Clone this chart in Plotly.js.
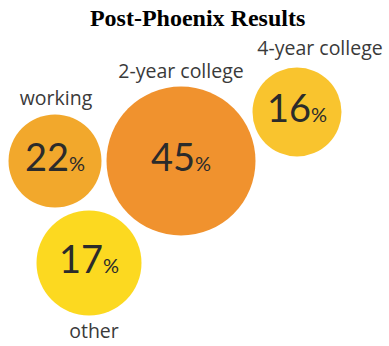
<!DOCTYPE html>
<html>
<head>
<meta charset="utf-8">
<script src="https://cdn.plot.ly/plotly-3.0.1.min.js"></script>
<style>
html,body{margin:0;padding:0;background:#fff;}
#chart{width:389px;height:346px;}
</style>
</head>
<body>
<div id="chart"></div>
<script>
// Data
const categories = ['working', '2-year college', '4-year college', 'other'];
const percents = [22, 45, 16, 17];

// Layout of the bubbles (pixel-like coordinates on hidden axes)
const bubbleX = [55, 181, 297, 89];
const bubbleY = [161, 161, 112, 263];
const bubbleD = [93, 149, 89, 105];
const labelX = [56, 181, 320, 94];
const labelY = [100, 73, 50, 333];
const colors = ['#F2A82C', '#F0922E', '#F9C42E', '#FCD920'];

const numFont = 'Lato, "Open Sans", sans-serif';
const labFont = '"Open Sans", Lato, sans-serif';

const bubbles = {
  type: 'scatter', mode: 'markers',
  x: bubbleX, y: bubbleY,
  marker: {size: bubbleD, sizemode: 'diameter', sizeref: 1, color: colors, opacity: 1, line: {width: 0}},
  hoverinfo: 'skip', showlegend: false
};

const numbers = {
  type: 'scatter', mode: 'text',
  x: bubbleX, y: bubbleY,
  text: percents.map(p => p + '<span style="font-size:20px">%</span>'),
  textposition: 'middle center',
  textfont: {family: numFont, size: 38, color: '#2b2b2b'},
  hoverinfo: 'skip', showlegend: false
};

const labels = {
  type: 'scatter', mode: 'text',
  x: labelX, y: labelY,
  text: categories,
  textposition: 'middle center',
  textfont: {family: labFont, size: 19.5, color: '#3a3a3a'},
  hoverinfo: 'skip', showlegend: false
};

const layout = {
  width: 389, height: 346,
  margin: {l: 0, r: 0, t: 0, b: 0},
  paper_bgcolor: '#fff', plot_bgcolor: '#fff',
  title: {
    text: '<b>Post-Phoenix Results</b>',
    font: {family: '"Liberation Serif", "Times New Roman", serif', size: 24, color: '#000'},
    x: 0.508, xanchor: 'center', xref: 'container',
    y: 1 - 18 / 346, yanchor: 'middle', yref: 'container'
  },
  xaxis: {range: [0, 389], visible: false, fixedrange: true},
  yaxis: {range: [346, 0], visible: false, fixedrange: true},
  showlegend: false
};

Plotly.newPlot('chart', [bubbles, numbers, labels], layout, {displayModeBar: false, staticPlot: true});
</script>
</body>
</html>
